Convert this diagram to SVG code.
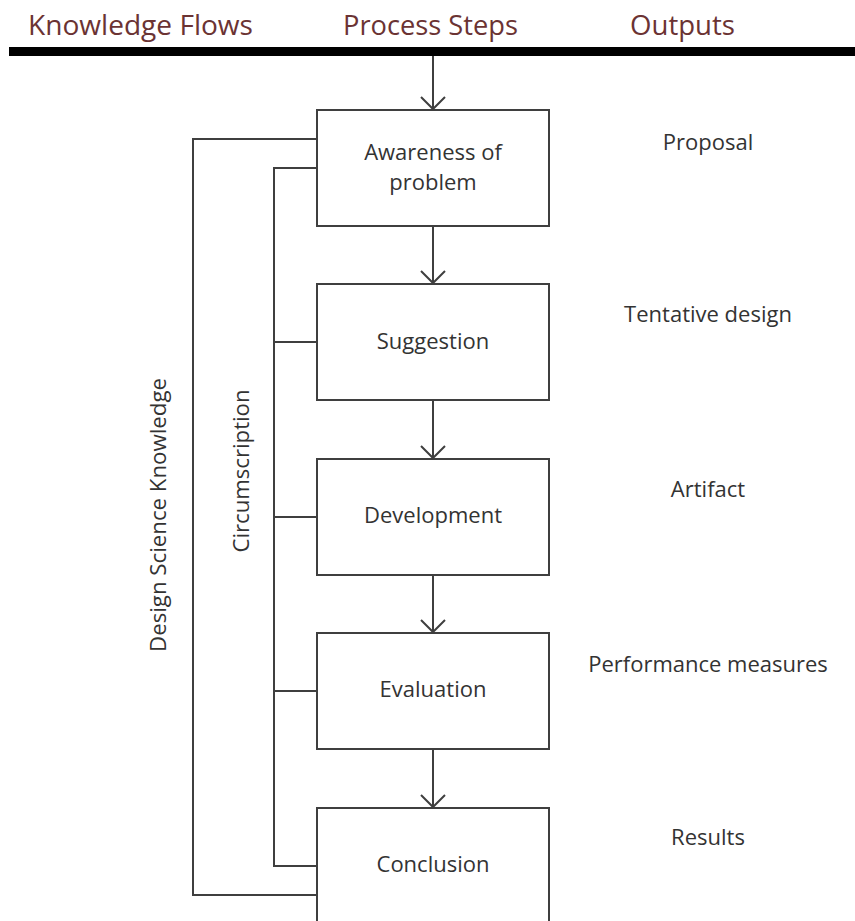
<svg xmlns="http://www.w3.org/2000/svg" width="855" height="921" viewBox="0 0 855 921">
<style>
.hdr{font-family:"Open Sans","Liberation Sans",sans-serif;font-size:27px;fill:#6b3333}
.lbl{font-family:"Open Sans","Liberation Sans",sans-serif;font-size:22px;fill:#333;text-anchor:middle}
.box{fill:#fff;stroke:#3f3f3f;stroke-width:2}
.ln{fill:none;stroke:#3f3f3f;stroke-width:2}
</style>
<defs>
<marker id="arr" markerWidth="16" markerHeight="28" refX="13" refY="13" orient="auto" markerUnits="userSpaceOnUse" viewBox="0 0 16 28">
<path d="M1,1 L13,13 L1,25" fill="none" stroke="#3f3f3f" stroke-width="2"/>
</marker>
</defs>
<rect width="855" height="921" fill="#fff"/>
<g id="header">
<text class="hdr" x="28" y="35" textLength="225" lengthAdjust="spacingAndGlyphs">Knowledge Flows</text>
<text class="hdr" x="343" y="35" textLength="175" lengthAdjust="spacingAndGlyphs">Process Steps</text>
<text class="hdr" x="630" y="35" textLength="105" lengthAdjust="spacingAndGlyphs">Outputs</text>
<rect x="9" y="47" width="846" height="9" fill="#000"/>
</g>
<g id="connectors">
<line class="ln" x1="433" y1="56" x2="433" y2="109" marker-end="url(#arr)"/>
<line class="ln" x1="433" y1="227" x2="433" y2="283" marker-end="url(#arr)"/>
<line class="ln" x1="433" y1="401" x2="433" y2="458" marker-end="url(#arr)"/>
<line class="ln" x1="433" y1="576" x2="433" y2="632" marker-end="url(#arr)"/>
<line class="ln" x1="433" y1="750" x2="433" y2="807" marker-end="url(#arr)"/>
<polyline class="ln" points="317,139 193,139 193,895 317,895"/>
<polyline class="ln" points="317,168 274,168 274,866 317,866"/>
<line class="ln" x1="274" y1="342" x2="317" y2="342"/>
<line class="ln" x1="274" y1="517" x2="317" y2="517"/>
<line class="ln" x1="274" y1="691" x2="317" y2="691"/>
</g>
<g id="awareness">
<rect class="box" x="317" y="110" width="232" height="116"/>
<text class="lbl" x="433" y="160">Awareness of</text>
<text class="lbl" x="433" y="190">problem</text>
</g>
<g id="suggestion">
<rect class="box" x="317" y="284" width="232" height="116"/>
<text class="lbl" x="433" y="349">Suggestion</text>
</g>
<g id="development">
<rect class="box" x="317" y="459" width="232" height="116"/>
<text class="lbl" x="433" y="523">Development</text>
</g>
<g id="evaluation">
<rect class="box" x="317" y="633" width="232" height="116"/>
<text class="lbl" x="433" y="697">Evaluation</text>
</g>
<g id="conclusion">
<rect class="box" x="317" y="808" width="232" height="130"/>
<text class="lbl" x="433" y="872">Conclusion</text>
</g>
<g id="flows">
<text class="lbl" transform="translate(166,515) rotate(-90)" x="0" y="0" textLength="274" lengthAdjust="spacingAndGlyphs">Design Science Knowledge</text>
<text class="lbl" transform="translate(249,471) rotate(-90)" x="0" y="0" textLength="163" lengthAdjust="spacingAndGlyphs">Circumscription</text>
</g>
<g id="outputs">
<text class="lbl" x="708" y="150">Proposal</text>
<text class="lbl" x="708" y="322">Tentative design</text>
<text class="lbl" x="708" y="497">Artifact</text>
<text class="lbl" x="708" y="672">Performance measures</text>
<text class="lbl" x="708" y="845">Results</text>
</g>
</svg>
